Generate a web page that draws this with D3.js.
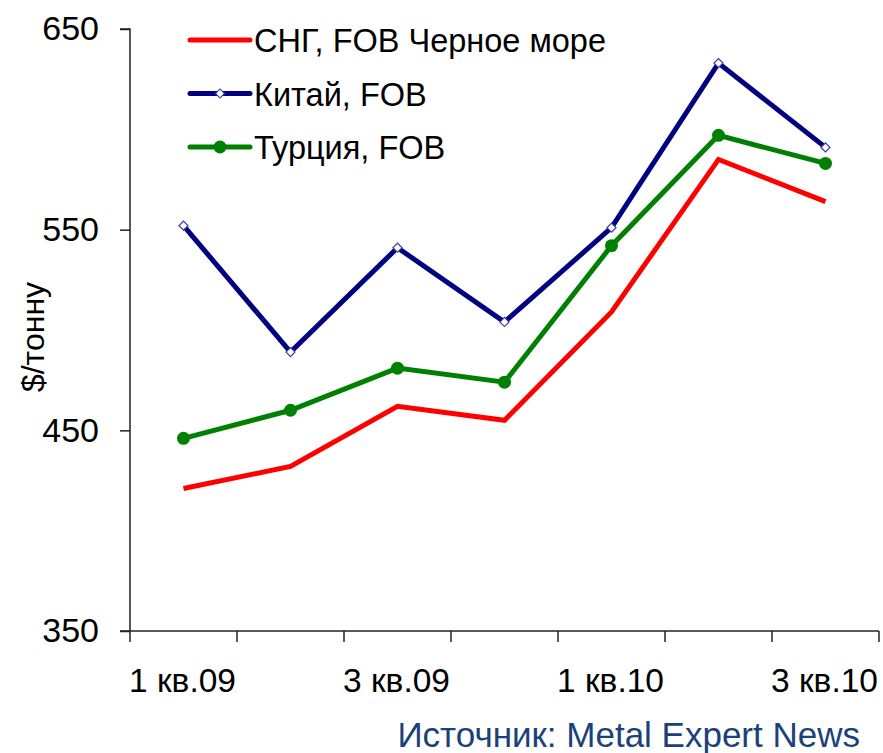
<!DOCTYPE html>
<html>
<head>
<meta charset="utf-8">
<script src="https://cdn.jsdelivr.net/npm/d3@7"></script>
<style>
  body { margin: 0; background: #fff; }
  text { font-family: "Liberation Sans", Arial, sans-serif; }
</style>
</head>
<body>
<svg id="chart" width="883" height="753"></svg>
<script>
const quarters = ["1 кв.09", "2 кв.09", "3 кв.09", "4 кв.09", "1 кв.10", "2 кв.10", "3 кв.10"];
const shownLabels = ["1 кв.09", "3 кв.09", "1 кв.10", "3 кв.10"];
const cisValues = [421, 432, 462, 455, 509, 585, 564];
const chinaValues = [552, 489, 541, 504, 551, 633, 591];
const turkeyValues = [446, 460, 481, 474, 542, 597, 583];
const yTicks = [350, 450, 550, 650];

const series = [
  { name: "СНГ, FOB Черное море", values: cisValues, color: "#ff0000", marker: "none" },
  { name: "Китай, FOB", values: chinaValues, color: "#000080", marker: "diamond" },
  { name: "Турция, FOB", values: turkeyValues, color: "#008000", marker: "circle" }
];

const svg = d3.select("#chart");
const plotLeft = 130, plotRight = 879, plotTop = 29, plotBottom = 631;

const x = d3.scaleBand().domain(quarters).range([plotLeft, plotRight]).padding(0);
const y = d3.scaleLinear().domain([350, 650]).range([plotBottom, plotTop]);
const cx = d => x(d) + x.bandwidth() / 2;

// y axis
const yAxis = svg.append("g")
  .attr("transform", `translate(${plotLeft},0)`)
  .call(d3.axisLeft(y).tickValues(yTicks).tickSize(10).tickPadding(21).tickFormat(d3.format("d")));
yAxis.select(".domain").attr("stroke", "#222").attr("stroke-width", 1.5).attr("d", `M-10,${plotTop}H0V${plotBottom}`);
yAxis.selectAll(".tick line").attr("stroke", "#222").attr("stroke-width", 1.5);
yAxis.selectAll(".tick text").attr("font-size", 34).attr("fill", "#000")
  .attr("font-family", "Liberation Sans, Arial, sans-serif");

// x axis
svg.append("line")
  .attr("x1", plotLeft - 10).attr("x2", plotRight)
  .attr("y1", plotBottom).attr("y2", plotBottom)
  .attr("stroke", "#222").attr("stroke-width", 1.5);

const edges = quarters.map(q => x(q)).concat([plotRight]);
svg.selectAll("line.xtick")
  .data(edges)
  .join("line")
  .attr("class", "xtick")
  .attr("x1", d => d).attr("x2", d => d)
  .attr("y1", plotBottom).attr("y2", plotBottom + 11)
  .attr("stroke", "#222").attr("stroke-width", 1.5);

svg.selectAll("text.xlab")
  .data(shownLabels)
  .join("text")
  .attr("class", "xlab")
  .attr("x", d => cx(d) - 1)
  .attr("y", 692)
  .attr("text-anchor", "middle")
  .attr("font-size", 33.5)
  .text(d => d);

// y title
svg.append("text")
  .attr("transform", "translate(44,337) rotate(-90)")
  .attr("text-anchor", "middle")
  .attr("font-size", 32)
  .text("$/тонну");

// lines
const line = d3.line()
  .x((d, i) => cx(quarters[i]))
  .y(d => y(d));

series.forEach(s => {
  svg.append("path")
    .datum(s.values)
    .attr("fill", "none")
    .attr("stroke", s.color)
    .attr("stroke-width", 5)
    .attr("stroke-linejoin", "miter")
    .attr("d", line);

  if (s.marker === "circle") {
    svg.selectAll(null)
      .data(s.values)
      .join("circle")
      .attr("cx", (d, i) => cx(quarters[i]))
      .attr("cy", d => y(d))
      .attr("r", 6.5)
      .attr("fill", s.color);
  } else if (s.marker === "diamond") {
    svg.selectAll(null)
      .data(s.values)
      .join("path")
      .attr("transform", (d, i) => `translate(${cx(quarters[i])},${y(d)}) rotate(45)`)
      .attr("d", "M-3.2,-3.2H3.2V3.2H-3.2Z")
      .attr("fill", "#fff")
      .attr("stroke", "#3a3aa8")
      .attr("stroke-width", 1.2);
  }
});

// legend
const legend = svg.append("g").attr("transform", "translate(190,40)");
const rows = legend.selectAll("g")
  .data(series)
  .join("g")
  .attr("transform", (d, i) => `translate(0,${i * 53.5})`);

rows.append("line")
  .attr("x1", 0).attr("x2", 60)
  .attr("stroke", d => d.color)
  .attr("stroke-width", 5)
  .attr("stroke-linecap", "round");

rows.filter(d => d.marker === "circle").append("circle")
  .attr("cx", 30).attr("r", 6.5).attr("fill", d => d.color);

rows.filter(d => d.marker === "diamond").append("path")
  .attr("transform", "translate(30,0) rotate(45)")
  .attr("d", "M-3.2,-3.2H3.2V3.2H-3.2Z")
  .attr("fill", "#fff")
  .attr("stroke", "#3a3aa8")
  .attr("stroke-width", 1.2);

rows.append("text")
  .attr("x", 64)
  .attr("y", 12)
  .attr("font-size", 32.5)
  .text(d => d.name);

// source
svg.append("text")
  .attr("x", 860)
  .attr("y", 747)
  .attr("text-anchor", "end")
  .attr("font-size", 35)
  .attr("fill", "#1a4279")
  .text("Источник: Metal Expert News");
</script>
</body>
</html>
